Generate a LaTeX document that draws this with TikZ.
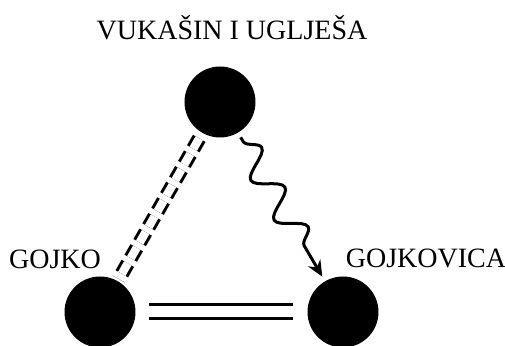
\documentclass[tikz,border=0pt]{standalone}
\usepackage{fontspec}
\setmainfont{Liberation Serif}
\usetikzlibrary{arrows.meta,decorations.pathmorphing}
\begin{document}
\begin{tikzpicture}[x=0.5pt,y=-0.5pt,font=\fontsize{14}{16}\selectfont,
  dot/.style={circle,fill=black,minimum size=35.5pt,inner sep=0pt},
  tie/.style={line width=1.5pt},
  rel/.style={tie,double,double distance=5.5pt},
  feud/.style={tie,double,double distance=4.2pt,dash pattern=on 6pt off 3pt}]
\useasboundingbox (0,0) rectangle (505,346);
\node[dot] (vu) at (220,102) {};
\node[dot] (go) at (100,312) {};
\node[dot] (gk) at (343,312) {};
\node (lvu) at (232,28) {VUKAŠIN I UGLJEŠA};
\node (lgo) at (55,259) {GOJKO};
\node (lgk) at (426,258) {GOJKOVICA};
% relations
\draw[feud,shorten <=3pt,shorten >=1pt] (vu) -- (go);
\draw[rel,shorten <=6.5pt,shorten >=7pt] (go) -- (gk);
\draw[tie,-{Stealth[length=8pt,width=7pt]},shorten <=2.5pt,shorten >=2.5pt,
  decorate,decoration={snake,amplitude=6.5pt,segment length=23pt,pre length=5pt,post length=9pt}]
  (vu) -- (gk);
\end{tikzpicture}
\end{document}
